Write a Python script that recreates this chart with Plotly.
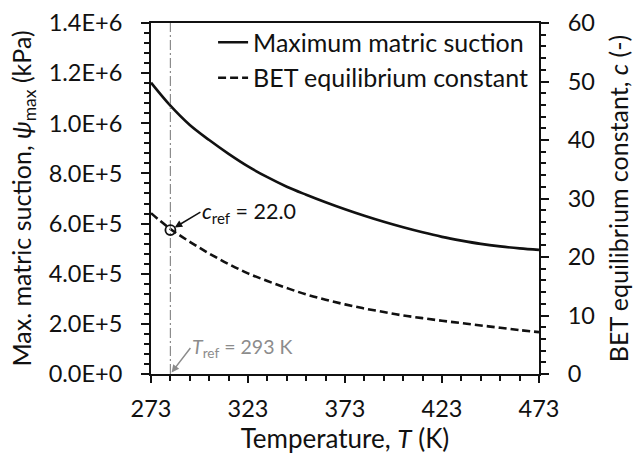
import plotly.graph_objects as go
from plotly.subplots import make_subplots

# Data
temperature_K = [273, 283, 293, 303, 313, 323, 333, 343, 353, 363, 373,
                 383, 393, 403, 413, 423, 433, 443, 453, 463, 473]
psi_max_kPa = [1.162e6, 1.070e6, 9.93e5, 9.33e5, 8.78e5, 8.28e5, 7.85e5, 7.47e5,
               7.15e5, 6.85e5, 6.57e5, 6.31e5, 6.07e5, 5.85e5, 5.65e5, 5.47e5,
               5.32e5, 5.19e5, 5.09e5, 5.01e5, 4.95e5]
bet_c = [27.5, 24.8, 22.6, 20.6, 18.8, 17.2, 15.9, 14.7, 13.6, 12.7, 11.9,
         11.2, 10.6, 10.0, 9.55, 9.1, 8.7, 8.3, 7.9, 7.5, 7.15]

T_ref_line = 283
c_ref_point = 24.6

x_ticks = [273, 323, 373, 423, 473]
y_left_ticks = [0, 2e5, 4e5, 6e5, 8e5, 1.0e6, 1.2e6, 1.4e6]
y_left_labels = ["0.0E+0", "2.0E+5", "4.0E+5", "6.0E+5", "8.0E+5",
                 "1.0E+6", "1.2E+6", "1.4E+6"]
y_right_ticks = [0, 10, 20, 30, 40, 50, 60]

FONT = "Lato"
INK = "#111111"
GREY = "#8c8c8c"

fig = make_subplots(specs=[[{"secondary_y": True}]])

fig.add_trace(go.Scatter(x=temperature_K, y=psi_max_kPa, mode="lines",
                         name="Maximum matric suction",
                         line=dict(color=INK, width=2.6, shape="spline")),
              secondary_y=False)
fig.add_trace(go.Scatter(x=temperature_K, y=bet_c, mode="lines",
                         name="BET equilibrium constant",
                         line=dict(color=INK, width=2.6, dash="8px,4px", shape="spline")),
              secondary_y=True)
# reference vertical line
fig.add_trace(go.Scatter(x=[T_ref_line, T_ref_line], y=[0, 60], mode="lines",
                         showlegend=False, hoverinfo="skip",
                         line=dict(color=GREY, width=1.2, dash="10px,3px,2px,3px")),
              secondary_y=True)
# c_ref marker
fig.add_trace(go.Scatter(x=[T_ref_line], y=[c_ref_point], mode="markers",
                         showlegend=False,
                         marker=dict(symbol="circle-open", size=10, color=INK,
                                     line=dict(width=1.8, color=INK))),
              secondary_y=True)

fig.add_annotation(x=T_ref_line, y=c_ref_point, xref="x", yref="y2",
                   text="<i>c</i><sub>ref</sub> = 22.0",
                   showarrow=True, ax=30, ay=-18, xanchor="left",
                   arrowhead=2, arrowsize=1, arrowwidth=1.5, arrowcolor=INK,
                   standoff=5,
                   font=dict(family=FONT, size=21.5, color=INK))
fig.add_annotation(x=T_ref_line, y=0, xref="x", yref="y2",
                   text="<i>T</i><sub>ref</sub> = 293 K",
                   showarrow=True, ax=20, ay=-26, xanchor="left",
                   arrowhead=2, arrowsize=1, arrowwidth=1.5, arrowcolor=GREY,
                   standoff=2,
                   font=dict(family=FONT, size=19.5, color=GREY))

axis_common = dict(showline=True, linecolor=INK, linewidth=2, ticks="outside",
                   tickcolor=INK, tickwidth=2, showgrid=False, zeroline=False,
                   automargin=False,
                   tickfont=dict(family=FONT, size=23.5, color=INK))

fig.update_xaxes(range=[273, 473], tickvals=x_ticks, ticklen=7, domain=[0, 1],
                 mirror=True, ticklabelstandoff=6,
                 minor=dict(dtick=10, tick0=273, ticks="outside", ticklen=5,
                            tickwidth=1.5, tickcolor=INK, showgrid=False),
                 title=dict(text="Temperature, <i>T</i> (K)", standoff=6,
                            font=dict(family=FONT, size=26, color=INK)),
                 **axis_common)
fig.update_yaxes(range=[0, 1.4e6], tickvals=y_left_ticks, ticktext=y_left_labels,
                 ticklen=8, ticklabelstandoff=14,
                 minor=dict(dtick=4e4, tick0=0, ticks="outside", ticklen=5,
                            tickwidth=1.5, tickcolor=INK, showgrid=False),
                 title=dict(text="Max. matric suction, <i>ψ</i><sub>max</sub> (kPa)",
                            standoff=10, font=dict(family=FONT, size=25, color=INK)),
                 secondary_y=False, **axis_common)
fig.update_yaxes(range=[0, 60], tickvals=y_right_ticks, ticklen=8,
                 ticklabelstandoff=14,
                 minor=dict(dtick=2, tick0=0, ticks="outside", ticklen=5,
                            tickwidth=1.5, tickcolor=INK, showgrid=False),
                 title=dict(text="BET equilibrium constant, <i>c</i> (-)",
                            standoff=17, font=dict(family=FONT, size=25, color=INK)),
                 secondary_y=True, **axis_common)

fig.update_layout(
    width=633, height=454,
    margin=dict(l=151, r=94, t=23, b=80),
    paper_bgcolor="white", plot_bgcolor="white",
    showlegend=True,
    legend=dict(x=0.16, y=1.01, xanchor="left", yanchor="top",
                bgcolor="rgba(0,0,0,0)", borderwidth=0,
                font=dict(family=FONT, size=25, color=INK),
                tracegroupgap=0, itemwidth=30),
)

fig.write_html("out.html")
